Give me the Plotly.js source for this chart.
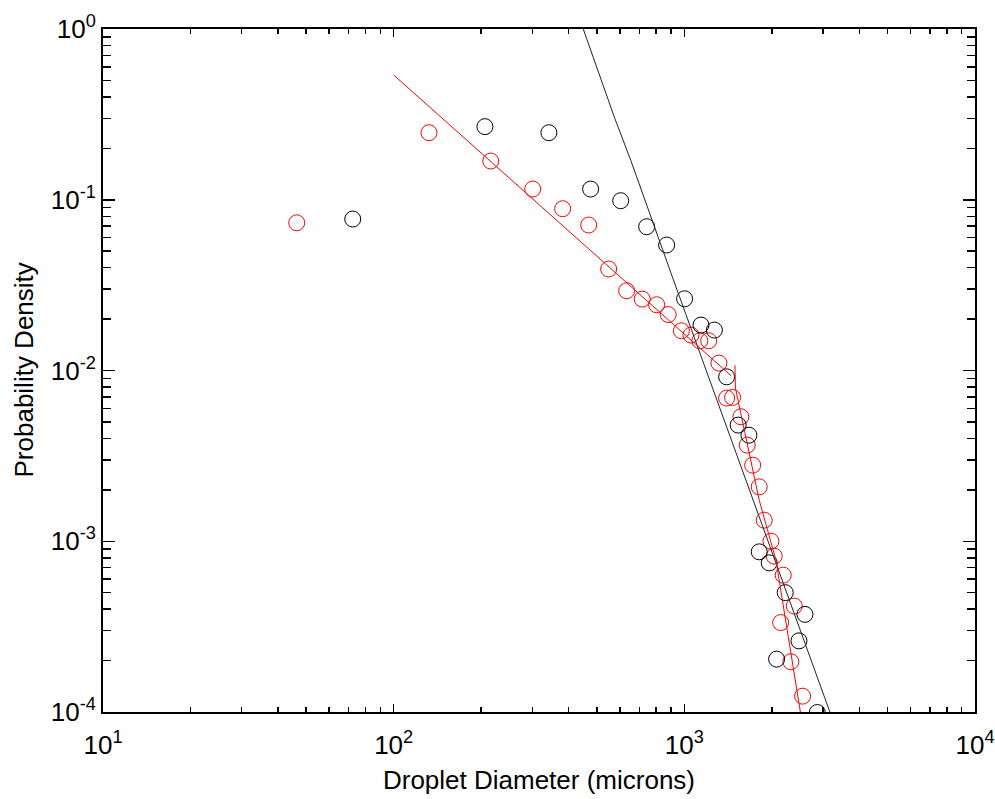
<!DOCTYPE html>
<html>
<head>
<meta charset="utf-8">
<script src="https://cdn.plot.ly/plotly-3.0.1.min.js"></script>
<style>
  html, body { margin: 0; padding: 0; background: #fff; }
  #chart { width: 995px; height: 799px; }
</style>
</head>
<body>
<div id="chart"></div>
<script>
// Measured droplet size distribution, black series
const blackDiameter = [72.3, 206, 342, 476, 604, 742, 869, 1002, 1141, 1269, 1398, 1532, 1668,
                       1810, 1959, 2224, 2600, 2479, 2077, 2866];
const blackDensity  = [0.0771, 0.268, 0.247, 0.1155, 0.0987, 0.0695, 0.0543, 0.0263, 0.01845, 0.01725,
                       0.00918, 0.00479, 0.00418, 0.000867, 0.000747, 0.000500, 0.000373, 0.000261,
                       0.000204, 0.0000993];

// Measured droplet size distribution, red series
const redDiameter = [46.4, 132.3, 215.7, 300.8, 381.4, 468.7, 549, 633, 716.5, 803, 880, 977, 1054,
                     1131, 1213, 1315, 1398, 1466, 1565, 1646, 1718, 1810, 1883, 1986, 2038, 2189,
                     2389, 2145, 2326, 2552];
const redDensity  = [0.0733, 0.247, 0.1685, 0.1155, 0.0886, 0.0711, 0.0393, 0.0293, 0.0262, 0.02426,
                     0.02126, 0.01708, 0.01612, 0.01493, 0.01493, 0.01105, 0.00689, 0.00696, 0.00536,
                     0.003656, 0.00279, 0.002083, 0.001329, 0.001001, 0.000818, 0.000633, 0.000417,
                     0.000334, 0.000197, 0.0001238];

// Fitted curves
const blackFitDiameter = [449, 576, 654, 914, 3168];
const blackFitDensity  = [1.0, 0.3006, 0.1705, 0.0345, 0.0001];

const redFitLowDiameter = [100, 1450];
const redFitLowDensity  = [0.5377, 0.0093];

const redFitHighDiameter = [1493, 1499, 1810, 2066, 2508];
const redFitHighDensity  = [0.01075, 0.00788, 0.00174, 0.000775, 0.0001];

// Axis ticks and titles
const xMajorVals = [10, 100, 1000, 10000];
const xMajorText = ['10<sup>1</sup>', '10<sup>2</sup>', '10<sup>3</sup>', '10<sup>4</sup>'];
const yMajorVals = [0.0001, 0.001, 0.01, 0.1, 1];
const yMajorText = ['10<sup>-4</sup>', '10<sup>-3</sup>', '10<sup>-2</sup>', '10<sup>-1</sup>', '10<sup>0</sup>'];
const minorMultipliers = [2, 3, 4, 5, 6, 7, 8, 9];
const xDecades = [10, 100, 1000];
const yDecades = [0.0001, 0.001, 0.01, 0.1];
const xTitle = 'Droplet Diameter (microns)';
const yTitle = 'Probability Density';

const xMinorVals = [];
xDecades.forEach(d => minorMultipliers.forEach(m => xMinorVals.push(d * m)));
const yMinorVals = [];
yDecades.forEach(d => minorMultipliers.forEach(m => yMinorVals.push(d * m)));

const FONT = 'Liberation Sans, Arial, sans-serif';

const traces = [
  {
    x: redDiameter, y: redDensity, type: 'scatter', mode: 'markers',
    marker: { symbol: 'circle-open', size: 16, color: '#ff0000', line: { width: 1, color: '#ff0000' } },
    hoverinfo: 'x+y', showlegend: false
  },
  {
    x: blackDiameter, y: blackDensity, type: 'scatter', mode: 'markers',
    marker: { symbol: 'circle-open', size: 16, color: '#000000', line: { width: 1, color: '#000000' } },
    hoverinfo: 'x+y', showlegend: false
  },
  {
    x: blackFitDiameter, y: blackFitDensity, type: 'scatter', mode: 'lines',
    line: { color: '#222222', width: 1 }, showlegend: false
  },
  {
    x: redFitLowDiameter, y: redFitLowDensity, type: 'scatter', mode: 'lines',
    line: { color: '#ff0000', width: 1 }, showlegend: false
  },
  {
    x: redFitHighDiameter, y: redFitHighDensity, type: 'scatter', mode: 'lines',
    line: { color: '#ff0000', width: 1 }, showlegend: false
  },
  // carrier for the minor-tick axes
  { x: [], y: [], xaxis: 'x2', yaxis: 'y2', type: 'scatter', mode: 'markers', showlegend: false, hoverinfo: 'skip' }
];

const layout = {
  width: 995, height: 799,
  margin: { l: 103, r: 20, t: 29, b: 87 },
  paper_bgcolor: '#ffffff', plot_bgcolor: '#ffffff',
  font: { family: FONT, color: '#000000', size: 26 },
  showlegend: false,
  xaxis: {
    type: 'log', range: [1, 4],
    tickmode: 'array', tickvals: xMajorVals, ticktext: xMajorText,
    ticks: 'inside', ticklen: 8, tickwidth: 1.5, tickcolor: '#000',
    showline: true, linecolor: '#000', linewidth: 2, mirror: 'ticks',
    showgrid: false, zeroline: false, ticklabelstandoff: 9,
    tickfont: { family: FONT, size: 26, color: '#000' },
    title: { text: xTitle, font: { family: FONT, size: 26, color: '#000' }, standoff: 12 }
  },
  yaxis: {
    type: 'log', range: [-4, 0],
    tickmode: 'array', tickvals: yMajorVals, ticktext: yMajorText,
    ticks: 'inside', ticklen: 12, tickwidth: 1.5, tickcolor: '#000',
    showline: true, linecolor: '#000', linewidth: 2, mirror: 'ticks',
    showgrid: false, zeroline: false,
    tickfont: { family: FONT, size: 26, color: '#000' }
  },
  xaxis2: {
    type: 'log', range: [1, 4], overlaying: 'x', anchor: 'y2',
    tickmode: 'array', tickvals: xMinorVals, showticklabels: false,
    ticks: 'inside', ticklen: 5, tickwidth: 1.5, tickcolor: '#000',
    showline: false, mirror: 'ticks', showgrid: false, zeroline: false
  },
  yaxis2: {
    type: 'log', range: [-4, 0], overlaying: 'y', anchor: 'x2',
    tickmode: 'array', tickvals: yMinorVals, showticklabels: false,
    ticks: 'inside', ticklen: 8, tickwidth: 1.5, tickcolor: '#000',
    showline: false, mirror: 'ticks', showgrid: false, zeroline: false
  },
  annotations: [{
    text: yTitle, textangle: -90, showarrow: false,
    xref: 'paper', yref: 'paper', x: 0, y: 0.5, xanchor: 'center', yanchor: 'middle',
    xshift: -80, font: { family: FONT, size: 26, color: '#000' }
  }]
};

Plotly.newPlot('chart', traces, layout, { displayModeBar: false, staticPlot: true });
</script>
</body>
</html>
